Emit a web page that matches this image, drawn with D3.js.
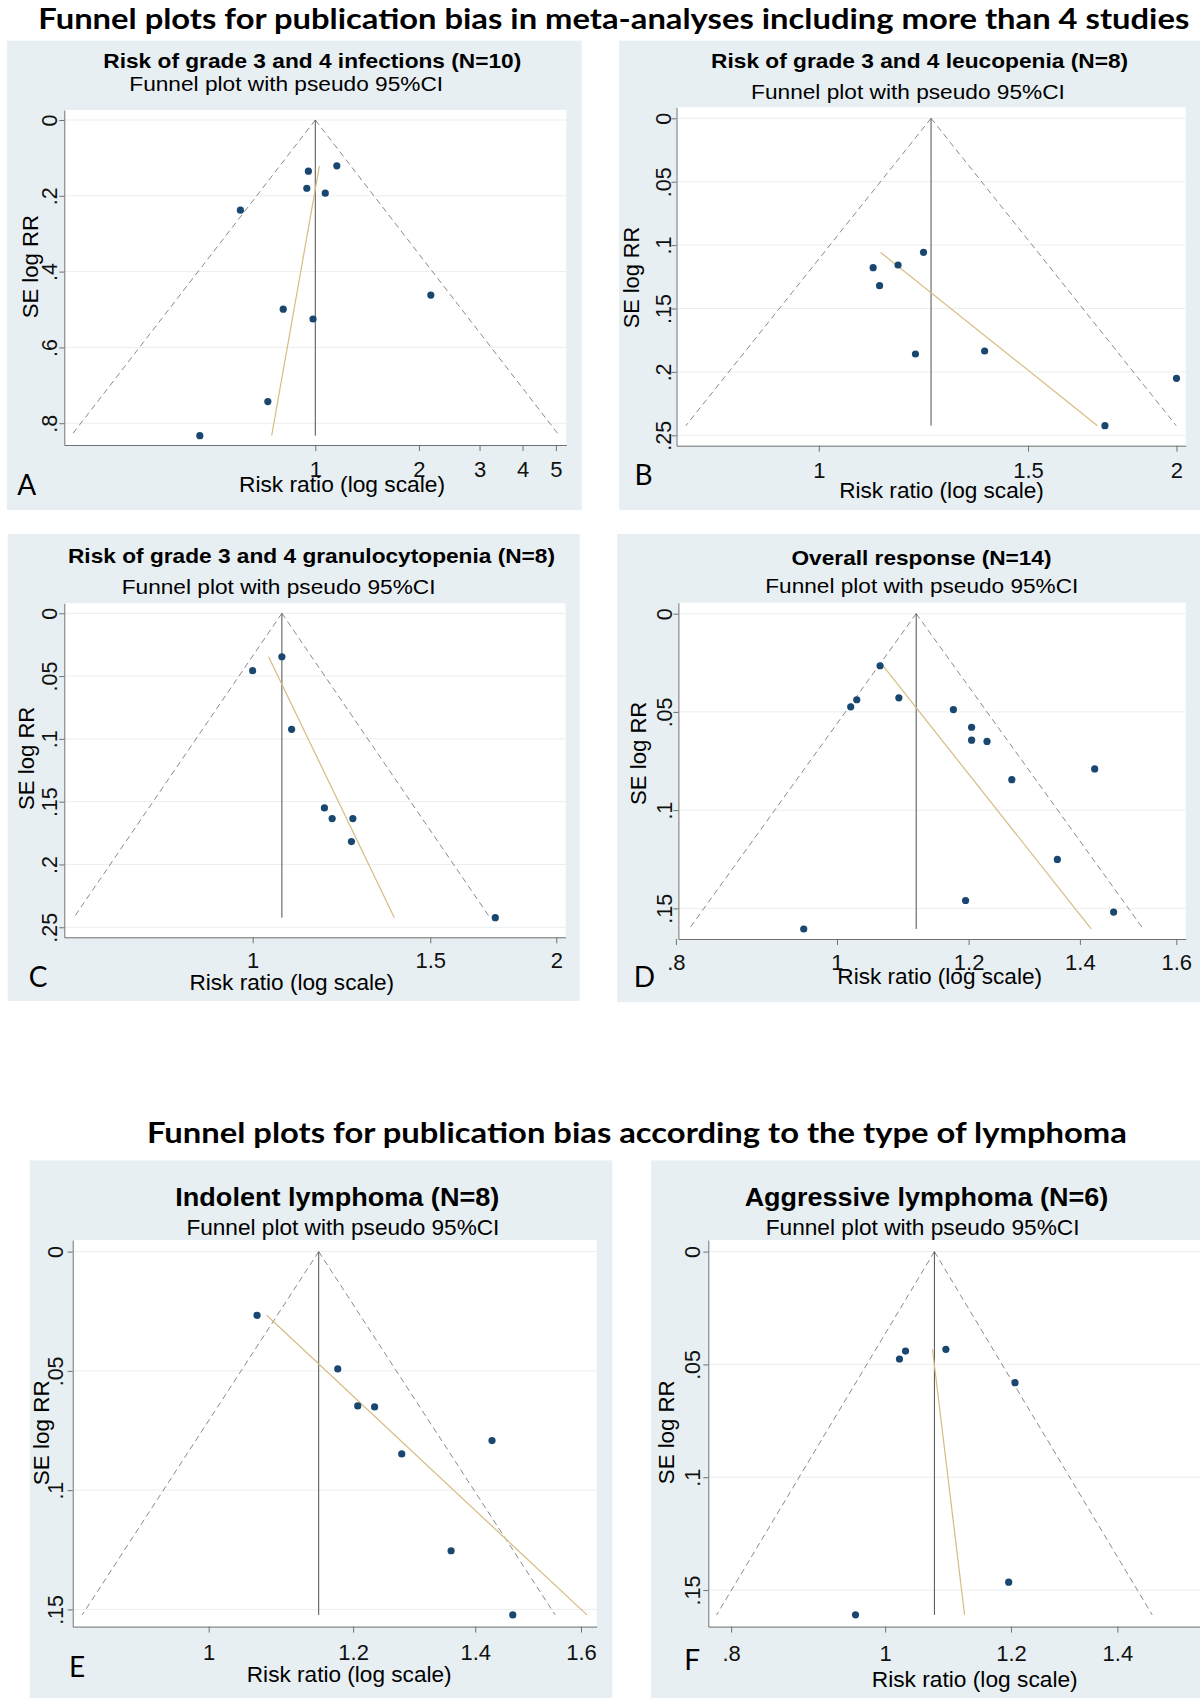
<!DOCTYPE html>
<html><head><meta charset="utf-8">
<script src="https://cdn.jsdelivr.net/npm/d3@7"></script>
<style>body{margin:0;background:#fff}svg{display:block}</style>
</head><body>
<svg id="chart" width="1200" height="1701"></svg>
<script>
// ---------------- DATA ----------------
const mainTitle1 = "Funnel plots for publication bias in meta-analyses including more than 4 studies";
const mainTitle2 = "Funnel plots for publication bias according to the type of lymphoma";
const panelLetters = ["A","B","C","D","E","F"];
const panelTitles = [
  "Risk of grade 3 and 4 infections (N=10)",
  "Risk of grade 3 and 4 leucopenia (N=8)",
  "Risk of grade 3 and 4 granulocytopenia (N=8)",
  "Overall response (N=14)",
  "Indolent lymphoma (N=8)",
  "Aggressive lymphoma (N=6)"
];
const subtitle = "Funnel plot with pseudo 95%CI";
const xAxisTitle = "Risk ratio (log scale)";
const yAxisTitle = "SE log RR";

// study risk ratios and standard errors of log RR
const rrA = [1.155,0.955,0.945,1.069,0.606,2.166,0.807,0.985,0.728,0.462];
const seA = [0.121,0.135,0.180,0.193,0.238,0.462,0.499,0.525,0.743,0.833];
const rrB = [1.225,1.111,1.166,1.125,1.206,1.379,2.000,1.741];
const seB = [0.1057,0.1178,0.1157,0.1320,0.1859,0.1835,0.2051,0.2424];
const rrC = [1.069,1.000,1.093,1.178,1.199,1.257,1.253,1.740];
const seC = [0.0346,0.0457,0.0924,0.1550,0.1635,0.1635,0.1818,0.2424];
const rrD = [1.0615,1.0278,1.0192,1.0895,1.175,1.205,1.205,1.231,1.274,1.429,1.357,1.195,1.467,0.955];
const seD = [0.0265,0.0438,0.0474,0.0428,0.0488,0.0578,0.0644,0.0650,0.0845,0.0790,0.1251,0.1460,0.1519,0.1605];
const rrE = [1.063,1.177,1.207,1.233,1.276,1.430,1.358,1.468];
const seE = [0.0267,0.0492,0.0647,0.0651,0.0848,0.0792,0.1254,0.1523];
const rrF = [1.021,1.030,1.092,1.207,1.196,0.958];
const seF = [0.0476,0.0441,0.0433,0.0581,0.1465,0.1610];

// pooled (fixed) RR of each meta-analysis: funnel apex
const pooledRR = [1.000,1.243,1.069,1.116,1.149,1.074];
// Egger regression line: RR at smallest SE and at largest SE
const eggerTopRR    = [1.028,1.127,1.037,1.066,1.076,1.071];
const eggerBottomRR = [0.747,1.716,1.382,1.422,1.612,1.122];

// axes
const xTickValues = [[1,2,3,4,5],[1,1.5,2],[1,1.5,2],[0.8,1,1.2,1.4,1.6],[1,1.2,1.4,1.6],[0.8,1,1.2,1.4]];
const xTickLabels = [["1","2","3","4","5"],["1","1.5","2"],["1","1.5","2"],[".8","1","1.2","1.4","1.6"],["1","1.2","1.4","1.6"],[".8","1","1.2","1.4"]];
const yTickValues = [[0,0.2,0.4,0.6,0.8],[0,0.05,0.1,0.15,0.2,0.25],[0,0.05,0.1,0.15,0.2,0.25],[0,0.05,0.1,0.15],[0,0.05,0.1,0.15],[0,0.05,0.1,0.15]];
const yTickLabels = [["0",".2",".4",".6",".8"],["0",".05",".1",".15",".2",".25"],["0",".05",".1",".15",".2",".25"],["0",".05",".1",".15"],["0",".05",".1",".15"],["0",".05",".1",".15"]];
const xDomains = [[0.1866,5.36],[0.759,2.036],[0.6505,2.043],[0.8028,1.621],[0.8423,1.632],[0.774,1.578]];
const yDomains = [[-0.0264,0.8575],[-0.00868,0.2582],[-0.00796,0.258],[-0.0056,0.1656],[-0.00486,0.1572],[-0.00514,0.1662]];

// ---------------- LAYOUT ----------------
const layout = [
 {box:[6.9,40.7,581.7,510],  plot:[64.3,110,566.3,445],    title:[312.3,68.3,418,21], sub:[286.2,90.7,313.8,20.5], xt:[342,492,206], yt:[38.3,266.7,103.3], letter:[17.2,495], yGap:7, xGap:32},
 {box:[619.1,40.7,1200,510], plot:[676.5,107.3,1185.7,445.7],title:[919.6,68.3,417,21], sub:[908,99.3,313.8,20.5],  xt:[941.5,498.3,204.7], yt:[639,277.5,101.6], letter:[634.4,485], yGap:6, xGap:32},
 {box:[7.7,534,579.7,1001],  plot:[64.3,603.3,565.6,937.3],title:[311.5,563.3,487,21], sub:[278.6,594,313.8,20.5], xt:[291.8,990,204.7], yt:[33.7,758.3,103.3], letter:[28.7,986.7], yGap:7, xGap:31},
 {box:[617.2,534,1200,1002.3],plot:[678.4,602.7,1185.7,939],title:[921.5,565,260,21],  sub:[921.8,593.3,313,20.5], xt:[939.7,984,204.7], yt:[646,753.3,103.3], letter:[633.7,986.7], yGap:6, xGap:31},
 {box:[29.8,1160.4,612.3,1698],plot:[72.7,1240,596.7,1626.6],title:[337.3,1205.5,324,26],sub:[342.9,1234.8,313,21.5],xt:[349.2,1682,204.8], yt:[49,1432.8,104.9], letter:[68.9,1676.7], yGap:9.5, xGap:33.5},
 {box:[651,1160.4,1200,1698], plot:[708.3,1240,1200,1626.6], title:[926.4,1205.5,363.5,26],sub:[922.6,1234.8,313.8,21.5],xt:[974.7,1687.4,205.9], yt:[673.5,1432.3,103.8], letter:[684.2,1669.5], yGap:8, xGap:34}
];

const rrs = [rrA,rrB,rrC,rrD,rrE,rrF];
const ses = [seA,seB,seC,seD,seE,seF];

const svg = d3.select("#chart");
const SANS = "'Liberation Sans', Arial, Helvetica, sans-serif";
const HEAD = "Lato, 'Open Sans', sans-serif";

function fitText(g, x, y, str, len, size, weight, family, anchor) {
  return g.append("text").attr("x", x).attr("y", y).text(str)
    .attr("font-family", family).attr("font-size", size).attr("font-weight", weight || "normal")
    .attr("text-anchor", anchor || "middle").attr("fill", "#000")
    .attr("textLength", len).attr("lengthAdjust", "spacingAndGlyphs");
}

// main titles
fitText(svg, 613.8, 28.5, mainTitle1, 1151, 29, "bold", HEAD);
fitText(svg, 636.9, 1143, mainTitle2, 980, 29, "bold", HEAD);

layout.forEach((L, i) => {
  const g = svg.append("g");
  const [bx0, by0, bx1, by1] = L.box;
  g.append("rect").attr("x", bx0).attr("y", by0).attr("width", bx1 - bx0).attr("height", by1 - by0).attr("fill", "#e7eff2");
  const [px0, py0, px1, py1] = L.plot;
  g.append("rect").attr("x", px0).attr("y", py0).attr("width", px1 - px0).attr("height", py1 - py0).attr("fill", "#fff");

  const x = d3.scaleLog().domain(xDomains[i]).range([px0, px1]);
  const y = d3.scaleLinear().domain(yDomains[i]).range([py0, py1]);

  // gridlines
  g.append("g").selectAll("line").data(yTickValues[i]).join("line")
    .attr("x1", px0).attr("x2", px1).attr("y1", d => y(d)).attr("y2", d => y(d))
    .attr("stroke", "#e9eef0").attr("stroke-width", 1);

  // axes
  const xa = g.append("g").attr("transform", `translate(0,${py1})`)
    .call(d3.axisBottom(x).tickValues(xTickValues[i]).tickFormat((d, k) => xTickLabels[i][k]).tickSize(6).tickSizeOuter(0));
  xa.select(".domain").attr("stroke", "#707070");
  xa.selectAll(".tick line").attr("stroke", "#707070");
  xa.selectAll(".tick text").attr("y", L.xGap).attr("dy", 0)
    .attr("font-family", SANS).attr("font-size", 22).attr("fill", "#111");

  const ya = g.append("g").attr("transform", `translate(${px0},0)`)
    .call(d3.axisLeft(y).tickValues(yTickValues[i]).tickFormat((d, k) => yTickLabels[i][k]).tickSize(5).tickSizeOuter(0));
  ya.select(".domain").attr("stroke", "#707070");
  ya.selectAll(".tick line").attr("stroke", "#707070");
  ya.selectAll(".tick text").attr("x", 0).attr("dy", 0)
    .attr("transform", `translate(${-L.yGap},0) rotate(-90)`)
    .attr("text-anchor", "middle")
    .attr("font-family", SANS).attr("font-size", 21.5).attr("fill", "#111");

  // funnel
  const seMax = d3.max(ses[i]);
  const seMin = d3.min(ses[i]);
  const lp = Math.log(pooledRR[i]);
  const lo = Math.exp(lp - 1.96 * seMax), hi = Math.exp(lp + 1.96 * seMax);
  const dash = g.append("g").attr("fill", "none").attr("stroke", "#8a8a8a").attr("stroke-width", 1).attr("stroke-dasharray", "6,4");
  dash.append("line").attr("x1", x(pooledRR[i])).attr("y1", y(0)).attr("x2", x(lo)).attr("y2", y(seMax));
  dash.append("line").attr("x1", x(pooledRR[i])).attr("y1", y(0)).attr("x2", x(hi)).attr("y2", y(seMax));
  g.append("line").attr("x1", x(pooledRR[i])).attr("y1", y(0)).attr("x2", x(pooledRR[i])).attr("y2", y(seMax))
    .attr("stroke", "#505050").attr("stroke-width", 1);

  // Egger line
  g.append("line").attr("x1", x(eggerTopRR[i])).attr("y1", y(seMin)).attr("x2", x(eggerBottomRR[i])).attr("y2", y(seMax))
    .attr("stroke", "#d6bc82").attr("stroke-width", 1.2);

  // study points
  const pts = rrs[i].map((r, k) => ({rr: r, se: ses[i][k]}));
  g.append("g").selectAll("circle").data(pts).join("circle")
    .attr("cx", d => x(d.rr)).attr("cy", d => y(d.se)).attr("r", 3.6).attr("fill", "#1a476f");

  // texts
  fitText(g, L.title[0], L.title[1], panelTitles[i], L.title[2], L.title[3], "bold", SANS);
  fitText(g, L.sub[0], L.sub[1], subtitle, L.sub[2], L.sub[3], "normal", SANS);
  fitText(g, L.xt[0], L.xt[1], xAxisTitle, L.xt[2], 22, "normal", SANS);
  fitText(g, 0, 0, yAxisTitle, L.yt[2], 22, "normal", SANS)
    .attr("transform", `translate(${L.yt[0]},${L.yt[1]}) rotate(-90)`);
  g.append("text").attr("x", L.letter[0]).attr("y", L.letter[1]).text(panelLetters[i])
    .attr("font-family", HEAD).attr("font-size", 28).attr("fill", "#000");
});
</script>
</body></html>
